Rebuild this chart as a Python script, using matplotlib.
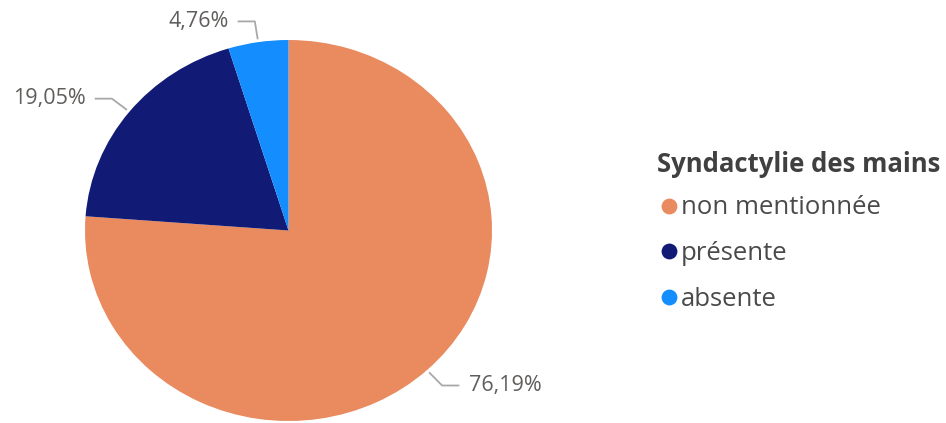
import matplotlib

matplotlib.use("Agg")
import matplotlib.pyplot as plt
import numpy as np

plt.rcParams["font.family"] = ["Open Sans", "DejaVu Sans"]

# Syndactylie des mains — nombre de cas par catégorie
categories = ["non mentionnée", "présente", "absente"]
counts = [16, 4, 1]
colors = ["#E98A5F", "#111B76", "#148DFF"]
legend_title = "Syndactylie des mains"

LABEL_GREY = "#605E5C"
LINE_GREY = "#A8A8A8"

W, H = 946, 423
fig = plt.figure(figsize=(W / 100, H / 100), dpi=100)

# pie area in pixels (left, top, right, bottom); it is slightly squashed vertically
pl, pt, pr, pb = 85, 40, 492, 421
ax = fig.add_axes([pl / W, 1 - pb / H, (pr - pl) / W, (pb - pt) / H])
wedges, _ = ax.pie(counts, colors=colors, startangle=90, counterclock=False,
                   radius=1.0, wedgeprops={"linewidth": 0})
ax.set_aspect("auto")
ax.set_xlim(-1, 1)
ax.set_ylim(-1, 1)
ax.axis("off")

# leader lines + percentage labels
total = sum(counts)
for w, n in zip(wedges, counts):
    mid = np.deg2rad((w.theta1 + w.theta2) / 2)
    c, s = np.cos(mid), np.sin(mid)
    x0, y0 = 1.02 * c, 1.02 * s
    x1, y1 = 1.11 * c, 1.11 * s
    side = 1 if c > 0 else -1
    x2 = x1 + side * 0.08
    ax.plot([x0, x1, x2], [y0, y1, y1], color=LINE_GREY, lw=1.3,
            solid_joinstyle="round", clip_on=False)
    pct = f"{100 * n / total:.2f}%".replace(".", ",")
    ax.text(x2 + side * 0.05, y1, pct, ha="left" if side > 0 else "right",
            va="center", fontsize=15.5, color=LABEL_GREY, clip_on=False)

# legend drawn on a full-figure overlay in pixel coordinates
lax = fig.add_axes([0, 0, 1, 1])
lax.set_xlim(0, W)
lax.set_ylim(H, 0)
lax.axis("off")
lax.text(657, 165, legend_title, fontsize=18.5, fontweight="bold",
         color="#404040", ha="left", va="center")
for i, (name, col) in enumerate(zip(categories, colors)):
    y = 206 + i * 45.5
    lax.scatter([669], [y], s=130, color=col, lw=0)
    lax.text(681, y + 2, name, fontsize=18.5, color="#4A4A4A", ha="left", va="center")

fig.savefig("out.png", dpi=100)
